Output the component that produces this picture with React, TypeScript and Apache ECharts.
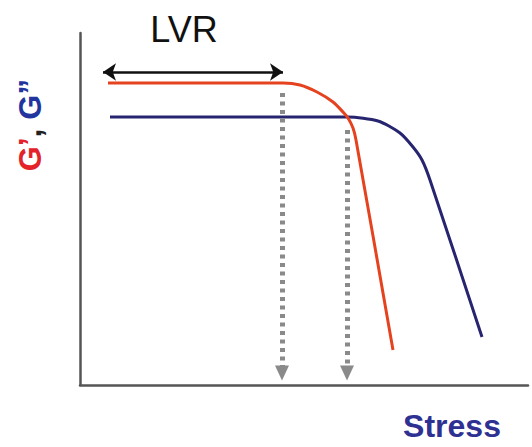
import React, { useEffect, useRef } from "react";
import * as echarts from "echarts";

// Chart units: x = stress (0..448), y = modulus (0..352)
const redX = [28, 203, 220, 237, 253, 263, 268, 273, 276, 313];
const redY = [302, 302, 300, 293, 283, 273, 267, 257, 245, 35];
const blueX = [30, 268, 298, 320, 333, 342, 350, 402];
const blueY = [268, 268, 264, 252, 238, 225, 205, 48];
// dotted drop lines: [x, yTop, yBottom]
const drops = [
  [202, 292, 12],
  [267, 255, 12],
];
// LVR range arrow: [xStart, xEnd, y]
const lvr = [23, 203, 313];

const xTitle = "Stress";
const lvrTitle = "LVR";

const FF = "Liberation Sans, Arial, sans-serif";

export default function App() {
  const ref = useRef<HTMLDivElement>(null);
  useEffect(() => {
    if (!ref.current) return;
    const chart = echarts.init(ref.current, undefined, { renderer: "svg" });
    const red = redX.map((x, i) => [x, redY[i]]);
    const blue = blueX.map((x, i) => [x, blueY[i]]);
    chart.setOption({
      animation: false,
      grid: { left: 80, right: 4, top: 33, bottom: 62 },
      xAxis: {
        type: "value",
        min: 0,
        max: 448,
        axisLine: { show: true, lineStyle: { color: "#555", width: 2.5 } },
        axisTick: { show: false },
        axisLabel: { show: false },
        splitLine: { show: false },
      },
      yAxis: {
        type: "value",
        min: 0,
        max: 352,
        axisLine: { show: true, lineStyle: { color: "#555", width: 2.5 } },
        axisTick: { show: false },
        axisLabel: { show: false },
        splitLine: { show: false },
      },
      series: [
        {
          type: "line",
          data: red,
          smooth: 0.25,
          showSymbol: false,
          lineStyle: { color: "#E5431F", width: 3 },
          silent: true,
          z: 3,
        },
        {
          type: "line",
          data: blue,
          smooth: 0.25,
          showSymbol: false,
          lineStyle: { color: "#27256F", width: 3 },
          silent: true,
          z: 2,
        },
        {
          type: "line",
          data: [],
          silent: true,
          markLine: {
            silent: true,
            animation: false,
            label: { show: false },
            emphasis: { disabled: true },
            data: [
              ...drops.map((d) => [
                {
                  coord: [d[0], d[1]],
                  symbol: "none",
                  lineStyle: { color: "#8a8a8a", width: 5, type: [4, 4.5] },
                },
                { coord: [d[0], d[2]], symbol: "triangle", symbolSize: [14, 15] },
              ]),
              [
                {
                  coord: [lvr[0], lvr[2]],
                  symbol: "arrow",
                  symbolSize: [13, 13],
                  lineStyle: { color: "#111", width: 2.5, type: "solid" },
                },
                { coord: [lvr[1], lvr[2]], symbol: "arrow", symbolSize: [13, 13] },
              ],
            ],
          },
        },
      ],
      graphic: [
        {
          type: "text",
          x: 184,
          y: 29,
          style: {
            text: lvrTitle,
            fontSize: 36,
            fontFamily: FF,
            fill: "#111",
            align: "center",
            verticalAlign: "middle",
          },
        },
        {
          type: "text",
          x: 452,
          y: 426,
          style: {
            text: xTitle,
            fontSize: 32,
            fontWeight: "bold",
            fontFamily: FF,
            fill: "#2E3192",
            align: "center",
            verticalAlign: "middle",
          },
        },
        {
          type: "text",
          x: 30,
          y: 125,
          rotation: Math.PI / 2,
          style: {
            text: "{r|G’}{k|, }{b|G”}",
            fontSize: 32,
            fontWeight: "bold",
            fontFamily: FF,
            align: "center",
            verticalAlign: "middle",
            rich: {
              r: { fill: "#E3222A", fontSize: 32, fontWeight: "bold", fontFamily: FF },
              k: { fill: "#222", fontSize: 32, fontWeight: "bold", fontFamily: FF },
              b: { fill: "#22359E", fontSize: 32, fontWeight: "bold", fontFamily: FF },
            },
          },
        },
      ],
    });
    return () => chart.dispose();
  }, []);
  return (
    <div
      ref={ref}
      style={{ position: "fixed", left: 0, top: 0, width: 532, height: 447, background: "#fff" }}
    />
  );
}
